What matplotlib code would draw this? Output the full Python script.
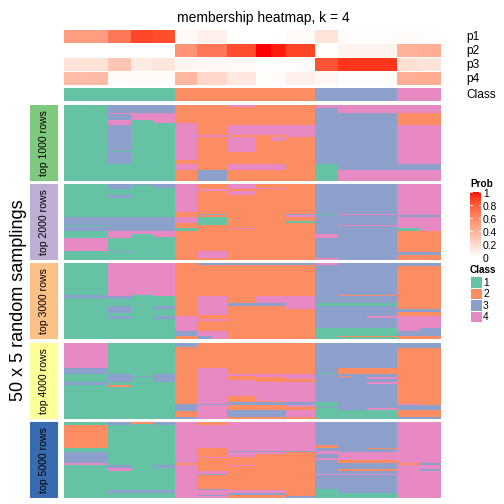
import numpy as np
import matplotlib
matplotlib.use("Agg")
import matplotlib.pyplot as plt
from matplotlib.colors import ListedColormap

plt.rcParams['font.family'] = ['Liberation Sans', 'DejaVu Sans']

# ---- data ------------------------------------------------------------------
N_COLS = 51
N_ROWS = 50

# column groups of the top annotation (number of columns in each group)
group_widths = [6, 3, 3, 3, 3, 4, 4, 2, 2, 4, 3, 8, 3, 3]
p1 = [0.50, 0.68, 0.87, 0.85, 0.03, 0.08, 0.00, 0.00, 0.00, 0.03, 0.14, 0.01, 0.02, 0.01]
p2 = [0.00, 0.00, 0.00, 0.00, 0.55, 0.68, 0.85, 1.00, 0.97, 0.88, 0.00, 0.06, 0.40, 0.42]
p3 = [0.15, 0.30, 0.10, 0.13, 0.05, 0.04, 0.03, 0.01, 0.01, 0.01, 0.82, 0.92, 0.16, 0.14]
p4 = [0.35, 0.02, 0.03, 0.02, 0.37, 0.20, 0.12, 0.00, 0.02, 0.08, 0.04, 0.01, 0.42, 0.43]
class_widths = [15, 19, 11, 6]
class_ids = [1, 2, 3, 4]

class_colors = ["#66C2A5", "#FC8D62", "#8DA0CB", "#E78AC3"]
block_labels = ["top 1000 rows", "top 2000 rows", "top 3000 rows",
                "top 4000 rows", "top 5000 rows"]
block_colors = ["#7FC97F", "#BEAED4", "#FDC086", "#FFFF99", "#386CB0"]

# each block: (first col, end col, vertical runs "class:nrows")
block1 = [
    (0, 6, "1:50"),
    (6, 9, "3:5 4:1 3:4 4:3 3:17 1:1 3:8 1:11"),
    (9, 12, "3:5 4:5 1:40"),
    (12, 15, "3:5 4:7 1:38"),
    (15, 18, "2:12 4:24 2:3 4:4 2:7"),
    (18, 22, "2:20 4:1 2:22 3:7"),
    (22, 26, "4:1 2:12 4:7 2:1 4:10 2:8 4:4 2:7"),
    (26, 28, "2:13 4:7 2:19 4:4 2:7"),
    (28, 30, "2:13 4:7 2:1 4:3 2:15 4:4 2:7"),
    (30, 34, "2:13 4:8 2:29"),
    (34, 37, "4:2 3:37 1:11"),
    (37, 45, "4:5 3:38 4:7"),
    (45, 51, "4:5 2:8 4:26 3:4 4:7"),
]
block2 = [
    (0, 6, "1:22 3:5 1:1 3:3 1:5 4:8 1:6"),
    (6, 9, "3:4 1:4 3:2 1:12 3:9 4:5 1:8 3:1 1:5"),
    (9, 12, "3:1 1:21 3:9 4:2 1:17"),
    (12, 15, "3:3 1:19 3:9 4:4 1:15"),
    (15, 18, "4:19 2:3 4:4 2:3 1:2 2:19"),
    (18, 22, "2:4 4:1 2:15 3:1 2:1 1:5 2:17 4:5 2:1"),
    (22, 26, "4:4 2:1 4:3 2:21 4:1 2:20"),
    (26, 30, "2:3 4:1 2:46"),
    (30, 34, "2:20 3:1 4:1 2:3 1:1 2:24"),
    (34, 37, "3:20 1:1 3:12 4:3 3:13 4:1"),
    (37, 45, "3:20 4:1 3:6 4:1 3:22"),
    (45, 48, "4:21 3:1 4:7 1:2 2:14 3:2 2:3"),
    (48, 51, "4:21 3:1 4:9 2:14 3:2 2:3"),
]
block3 = [
    (0, 6, "1:21 3:2 1:27"),
    (6, 9, "4:22 3:2 1:4 3:5 1:2 3:2 1:13"),
    (9, 12, "4:21 1:29"),
    (12, 15, "4:22 1:6 3:2 1:5 3:2 1:13"),
    (15, 18, "2:35 4:10 3:3 2:2"),
    (18, 20, "3:1 2:21 4:12 2:3 4:1 2:7 4:3 3:2"),
    (20, 22, "3:1 2:21 4:12 2:3 4:1 2:7 4:5"),
    (22, 26, "3:1 2:25 3:2 2:22"),
    (26, 30, "3:1 2:21 4:4 3:2 2:22"),
    (30, 34, "3:1 2:21 4:8 2:20"),
    (34, 37, "4:1 3:25 1:2 3:15 1:7"),
    (37, 41, "3:21 2:1 3:4 1:2 3:15 1:5 2:1 1:1"),
    (41, 45, "3:21 2:1 3:4 1:2 3:7 4:1 3:7 1:5 2:1 1:1"),
    (45, 48, "3:2 2:28 3:2 2:3 4:10 3:3 2:2"),
    (48, 51, "3:2 2:28 3:2 2:3 4:8 3:5 2:2"),
]
block4 = [
    (0, 6, "4:17 3:4 1:5 3:2 1:22"),
    (6, 9, "1:21 3:5 1:2 2:1 1:21"),
    (9, 12, "1:22 3:1 1:27"),
    (12, 15, "1:21 3:5 1:24"),
    (15, 18, "3:3 2:37 3:5 2:4 3:1"),
    (18, 22, "2:17 4:23 3:1 4:9"),
    (22, 26, "2:21 4:1 2:3 4:10 2:4 3:2 2:3 3:5 2:1"),
    (26, 30, "2:21 4:2 2:3 4:12 2:1 3:2 2:3 3:5 2:1"),
    (30, 34, "2:21 4:3 2:2 4:13 3:2 4:1 2:2 4:5 2:1"),
    (34, 37, "3:20 1:1 3:18 1:3 3:1 1:7"),
    (37, 39, "3:17 2:4 3:1 2:1 3:21 1:6"),
    (39, 41, "3:17 2:4 3:23 1:6"),
    (41, 45, "3:17 2:4 3:2 4:1 3:2 4:1 3:16 4:1 1:6"),
    (45, 48, "3:4 2:36 4:1 3:3 2:5 3:1"),
    (48, 51, "3:4 2:37 3:3 2:5 3:1"),
]
block5 = [
    (0, 6, "1:2 2:15 1:3 3:7 4:1 1:22"),
    (6, 9, "3:2 1:26 3:2 4:2 1:13 3:2 1:3"),
    (9, 12, "2:1 1:44 3:2 1:3"),
    (12, 15, "3:2 1:26 3:2 1:15 3:2 1:3"),
    (15, 18, "4:27 2:1 4:22"),
    (18, 22, "2:2 4:15 2:6 4:1 2:8 4:2 3:1 2:9 3:1 4:3 3:1 4:1"),
    (22, 26, "4:19 3:1 4:3 2:5 4:1 2:16 4:2 3:1 2:2"),
    (26, 30, "4:19 3:1 4:1 2:24 4:2 3:1 2:2"),
    (30, 34, "4:19 3:1 2:29 3:1"),
    (34, 37, "3:15 2:2 3:2 4:2 3:3 4:1 3:9 4:1 3:9 1:6"),
    (37, 41, "3:20 4:5 2:2 3:4 2:1 3:2 4:1 3:12 1:3"),
    (41, 45, "3:17 2:1 3:2 4:5 2:2 3:4 2:1 3:2 4:1 3:12 1:3"),
    (45, 48, "4:27 2:1 4:22"),
    (48, 51, "4:27 3:1 4:3 3:1 4:18"),
]
blocks = [block1, block2, block3, block4, block5]


# ---- helpers ---------------------------------------------------------------
def lab_white_red(t):
    # white -> red interpolated in LAB space (like colorRamp2)
    t = np.asarray(t, dtype=float)
    L = 100 + t * (53.24 - 100)
    a = t * 80.09
    b = t * 67.20
    fy = (L + 16) / 116
    fx = fy + a / 500
    fz = fy - b / 200

    def finv(f):
        return np.where(f ** 3 > 0.008856, f ** 3, (f - 16 / 116) / 7.787)

    xyz = np.stack([0.95047 * finv(fx), finv(fy), 1.08883 * finv(fz)], axis=-1)
    M = np.array([[3.2406, -1.5372, -0.4986],
                  [-0.9689, 1.8758, 0.0415],
                  [0.0557, -0.2040, 1.0570]])
    rgb = xyz @ M.T
    rgb = np.where(rgb > 0.0031308, 1.055 * np.clip(rgb, 0, None) ** (1 / 2.4) - 0.055, 12.92 * rgb)
    return np.clip(rgb, 0, 1)


def build_block(spec):
    mat = np.zeros((N_ROWS, N_COLS), dtype=int)
    for c0, c1, runs in spec:
        col = []
        for r in runs.split():
            k, n = r.split(":")
            col += [int(k)] * int(n)
        mat[:, c0:c1] = np.array(col)[:, None]
    return mat


W = H = 504
fig = plt.figure(figsize=(5.04, 5.04), dpi=100)


def px_axes(x0, y0, x1, y1):
    ax = fig.add_axes([x0 / W, 1 - y1 / H, (x1 - x0) / W, (y1 - y0) / H])
    ax.set_axis_off()
    return ax


class_cmap = ListedColormap(class_colors)
X0, X1 = 64, 441

# ---- top annotation --------------------------------------------------------
fig.text(263 / W, 1 - 18 / H, "membership heatmap, k = 4", ha="center", va="center", fontsize=10)

prob_rows = [p1, p2, p3, p4]
prob_names = ["p1", "p2", "p3", "p4"]
for i, (vals, name) in enumerate(zip(prob_rows, prob_names)):
    y0 = 30 + i * 14
    ax = px_axes(X0, y0, X1, y0 + 13.4)
    row = np.repeat(vals, group_widths)
    ax.imshow(lab_white_red(row)[None, :, :], aspect="auto", interpolation="nearest")
    fig.text(466 / W, 1 - (y0 + 7) / H, name, ha="left", va="center", fontsize=8.6)

ax = px_axes(X0, 88, X1, 101.5)
class_row = np.repeat(class_ids, class_widths)
ax.imshow(class_row[None, :], aspect="auto", cmap=class_cmap, vmin=0.5, vmax=4.5,
          interpolation="nearest")
fig.text(466 / W, 1 - 95 / H, "Class", ha="left", va="center", fontsize=8.6)

# ---- sampling blocks -------------------------------------------------------
block_tops = [105, 184, 263, 343, 422]
block_h = 76
for spec, top, lab, lc in zip(blocks, block_tops, block_labels, block_colors):
    ax = px_axes(X0, top, X1, top + block_h)
    ax.imshow(build_block(spec), aspect="auto", cmap=class_cmap, vmin=0.5, vmax=4.5,
              interpolation="nearest")
    lax = px_axes(30, top, 58, top + block_h)
    lax.add_patch(plt.Rectangle((0, 0), 1, 1, color=lc, transform=lax.transAxes))
    fig.text(44 / W, 1 - (top + block_h / 2) / H, lab, rotation=90, ha="center",
             va="center", fontsize=7.6, color="black")

fig.text(19 / W, 1 - 300 / H, "50 x 5 random samplings", rotation=90, ha="center",
         va="center", fontsize=13)

# ---- legends ---------------------------------------------------------------
fig.text(470 / W, 1 - 184 / H, "Prob", ha="left", va="center", fontsize=7.2, fontweight="bold")
cb_top, cb_bot = 192, 257
cax = px_axes(470, cb_top, 481, cb_bot)
grad = lab_white_red(np.linspace(1, 0, 200))[:, None, :]
cax.imshow(grad, aspect="auto", interpolation="bilinear")
for v in [0, 0.2, 0.4, 0.6, 0.8, 1.0]:
    yy = cb_bot - v * (cb_bot - cb_top)
    yt = 259 - v * 65
    fig.text(483 / W, 1 - yt / H, f"{v:g}", ha="left", va="center", fontsize=7.4)
    for xs in [(470, 472), (479, 481)]:
        fig.add_artist(plt.Line2D([xs[0] / W, xs[1] / W], [1 - yy / H, 1 - yy / H],
                                  color="white", lw=0.6))

fig.text(470 / W, 1 - 270 / H, "Class", ha="left", va="center", fontsize=7.2, fontweight="bold")
for i, (cid, col) in enumerate(zip(class_ids, class_colors)):
    y0 = 277 + i * 11.6
    bax = px_axes(470.5, y0, 481.5, y0 + 10.6)
    bax.add_patch(plt.Rectangle((0, 0), 1, 1, color=col, transform=bax.transAxes))
    fig.text(483 / W, 1 - (y0 + 5.5) / H, str(cid), ha="left", va="center", fontsize=7.4)

fig.savefig("out.png", dpi=100)
